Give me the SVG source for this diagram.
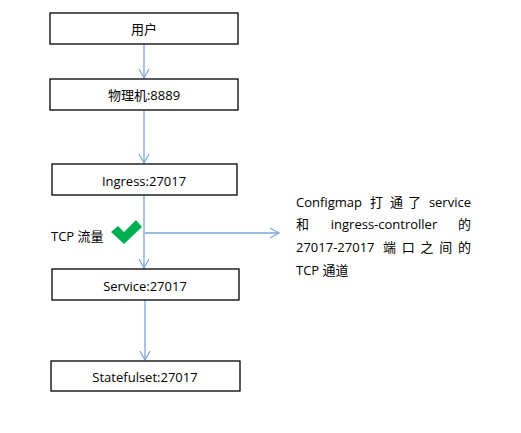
<svg xmlns="http://www.w3.org/2000/svg" width="521" height="433" viewBox="0 0 521 433">
<defs>
<style>
.box{fill:#fff;stroke:#000;stroke-width:1.3}
.t{font-family:"Open Sans","Liberation Sans","Noto Sans CJK SC",sans-serif;font-size:13px;fill:#000}
.c{text-anchor:middle}
.e{text-anchor:end}
.ln{stroke:#7aa6da;stroke-width:1.3;fill:none}
</style>
<marker id="ah" markerWidth="12" markerHeight="12" refX="10" refY="6" orient="auto" markerUnits="userSpaceOnUse">
<path d="M1,1 L10,6 L1,11" fill="none" stroke="#7aa6da" stroke-width="1.2"/>
</marker>
</defs>
<rect width="521" height="433" fill="#fff"/>
<g id="connectors">
<line class="ln" x1="144" y1="44" x2="144" y2="78" marker-end="url(#ah)"/>
<line class="ln" x1="144" y1="110" x2="144" y2="163" marker-end="url(#ah)"/>
<line class="ln" x1="144" y1="195" x2="144" y2="268" marker-end="url(#ah)"/>
<line class="ln" x1="145" y1="233" x2="279" y2="233" marker-end="url(#ah)"/>
<line class="ln" x1="145" y1="300" x2="145" y2="360" marker-end="url(#ah)"/>
</g>
<g id="n1"><rect class="box" x="50" y="13" width="188" height="31"/><text class="t c" x="144" y="34">用户</text></g>
<g id="n2"><rect class="box" x="50" y="79" width="188" height="31"/><text class="t c" x="144" y="100">物理机:8889</text></g>
<g id="n3"><rect class="box" x="52" y="164" width="185" height="31"/><text class="t c" x="144" y="186">Ingress:27017</text></g>
<g id="n4"><rect class="box" x="52" y="269" width="187" height="31"/><text class="t c" x="145" y="291">Service:27017</text></g>
<g id="n5"><rect class="box" x="51" y="361" width="189" height="30"/><text class="t c" x="145" y="382">Statefulset:27017</text></g>
<g id="tcp">
<text class="t" x="51" y="241">TCP 流量</text>
<path d="M111,232 L118,226 L124,232 L136,220 L142,227 L124,244 Z" fill="#00b050"/>
</g>
<g id="note">
<text class="t" x="296" y="207">Configmap</text>
<text class="t" x="370" y="207">打</text>
<text class="t" x="390" y="207">通</text>
<text class="t" x="408" y="207">了</text>
<text class="t e" x="471" y="207">service</text>
<text class="t" x="296" y="229">和</text>
<text class="t c" x="384" y="229">ingress-controller</text>
<text class="t e" x="471" y="229">的</text>
<text class="t" x="296" y="252">27017-27017</text>
<text class="t" x="383" y="252" textLength="88" lengthAdjust="spacing">端口之间的</text>
<text class="t" x="296" y="275">TCP 通道</text>
</g>
</svg>
